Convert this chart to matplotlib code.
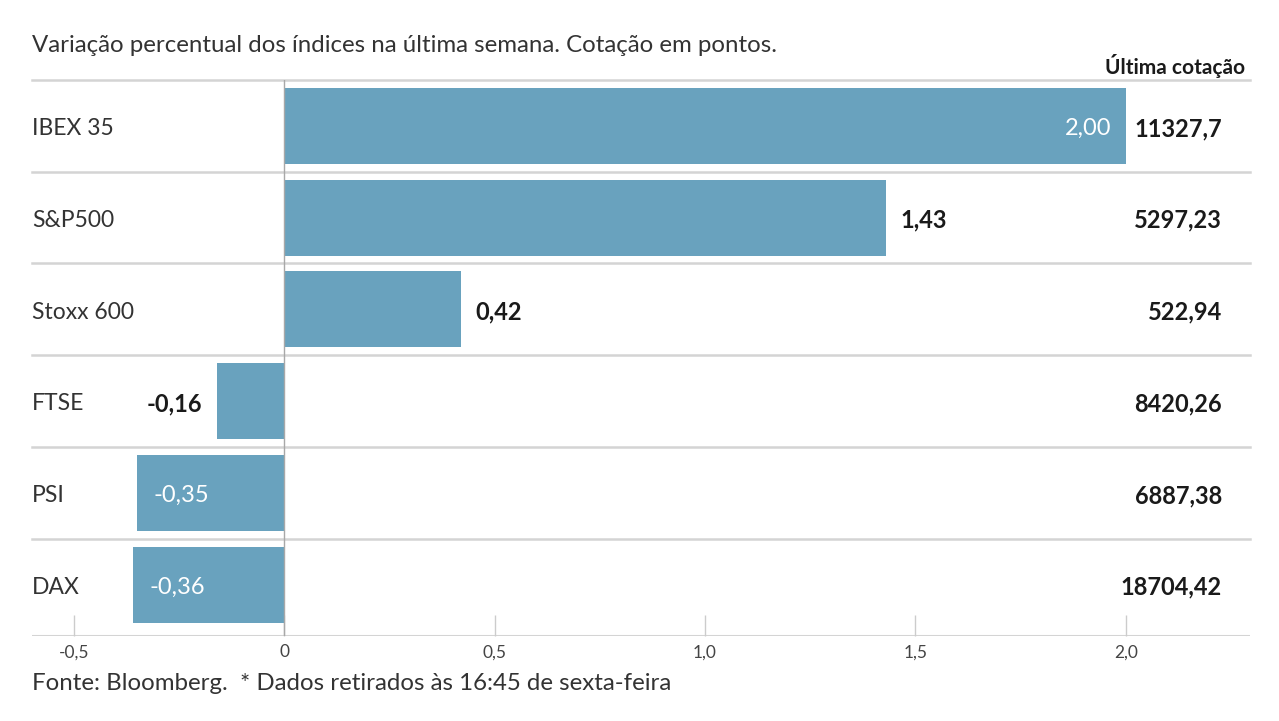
import matplotlib
matplotlib.use("Agg")
import matplotlib.pyplot as plt
import matplotlib.transforms as mtransforms

plt.rcParams['font.family'] = ['Lato', 'DejaVu Sans']

indices = ["IBEX 35", "S&P500", "Stoxx 600", "FTSE", "PSI", "DAX"]
variacao = [2.00, 1.43, 0.42, -0.16, -0.35, -0.36]
cotacao = ["11327,7", "5297,23", "522,94", "8420,26", "6887,38", "18704,42"]
ticks = [-0.5, 0, 0.5, 1.0, 1.5, 2.0]
tick_labels = ["-0,5", "0", "0,5", "1,0", "1,5", "2,0"]

bar_color = "#69a2be"
line_color = "#d4d4d4"

fig = plt.figure(figsize=(12.79, 7.21), dpi=100)
ax = fig.add_axes([32 / 1279, 1 - 636 / 721, (1250 - 32) / 1279, (636 - 80) / 721])

y = list(range(len(indices)))
ax.barh(y, variacao, height=0.83, color=bar_color, zorder=2)
ax.set_xlim(-0.599, 2.295)
ax.set_ylim(len(indices) - 0.5 + 0.06, -0.5)

# row separators
for i in range(len(indices)):
    ax.axhline(i - 0.5, color=line_color, lw=1.8, zorder=1, clip_on=False)
ax.axhline(len(indices) - 0.5 + 0.06, color=line_color, lw=2.2, zorder=1)
ax.plot([0, 0], [-0.5, len(indices) - 0.44], color="#a8a8a8", lw=1, zorder=3)

trans = mtransforms.blended_transform_factory(ax.transAxes, ax.transData)
for i, (name, v, c) in enumerate(zip(indices, variacao, cotacao)):
    ax.text(0.0, i + 0.03, name, transform=trans, ha="left", va="center",
            fontsize=16.5, color="#333333")
    ax.text(0.977, i + 0.03, c, transform=trans, ha="right", va="center",
            fontsize=17, fontweight="bold", color="#1a1a1a")
    lbl = f"{v:.2f}".replace(".", ",")
    # labels go inside the bar only when there is room / no space on the right
    if v > 1.8:
        ax.text(v - 0.035, i + 0.03, lbl, ha="right", va="center",
                fontsize=17, color="white")
    elif v < -0.3:
        ax.text(v + 0.04, i + 0.03, lbl, ha="left", va="center",
                fontsize=17, color="white")
    elif v > 0:
        ax.text(v + 0.035, i + 0.03, lbl, ha="left", va="center",
                fontsize=17, fontweight="bold", color="#1a1a1a")
    else:
        ax.text(v - 0.035, i + 0.03, lbl, ha="right", va="center",
                fontsize=17, fontweight="bold", color="#1a1a1a")

ax.text(0.996, -0.57, "Última cotação", transform=trans, ha="right",
        va="baseline", fontsize=15, fontweight="bold", color="#1a1a1a")

for s in ax.spines.values():
    s.set_visible(False)
ax.set_yticks([])
ax.set_xticks(ticks)
ax.set_xticklabels(tick_labels, fontsize=12.5, color="#444444")
ax.tick_params(axis="x", direction="in", length=15, width=1, color="#cccccc", pad=6)
ax.xaxis.set_ticks_position("bottom")

fig.text(32 / 1279, 1 - 45 / 721, "Variação percentual dos índices na última semana. Cotação em pontos.",
         ha="left", va="center", fontsize=17.3, color="#333333")
fig.text(32 / 1279, 1 - 684 / 721, "Fonte: Bloomberg.  * Dados retirados às 16:45 de sexta-feira",
         ha="left", va="center", fontsize=17.3, color="#333333")

fig.savefig("out.png", dpi=100)
